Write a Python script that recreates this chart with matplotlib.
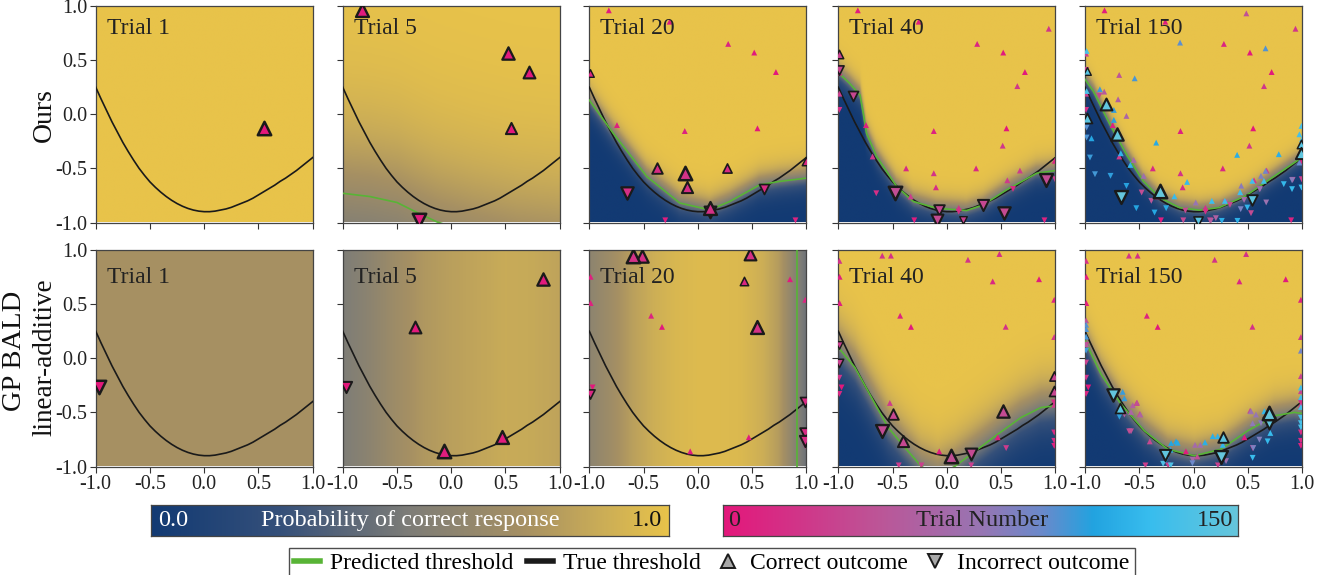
import numpy as np
import matplotlib.pyplot as plt
from matplotlib.colors import LinearSegmentedColormap
from matplotlib.lines import Line2D

plt.rcParams['font.family'] = ['Liberation Serif', 'DejaVu Serif']
plt.rcParams['axes.unicode_minus'] = False

TRIALS = [1, 5, 20, 40, 150]
MAX_TRIAL = 150
ROW_NAMES = ["Ours", "GP BALD"]

# true threshold curve
true_x = [-1.0, -0.95, -0.9, -0.85, -0.8, -0.75, -0.7, -0.65, -0.6, -0.55, -0.5,
          -0.45, -0.4, -0.35, -0.3, -0.25, -0.2, -0.15, -0.1, -0.05, 0.0,
          0.05, 0.1, 0.15, 0.2, 0.25, 0.3, 0.35, 0.4, 0.45, 0.5,
          0.55, 0.6, 0.65, 0.7, 0.75, 0.8, 0.85, 0.9, 0.95, 1.0]
true_y = [0.25, 0.14, 0.035, -0.07, -0.165, -0.26, -0.345, -0.425, -0.50, -0.565, -0.625,
          -0.675, -0.72, -0.76, -0.795, -0.825, -0.85, -0.87, -0.885, -0.895, -0.90,
          -0.90, -0.895, -0.885, -0.875, -0.86, -0.84, -0.82, -0.80, -0.775, -0.745,
          -0.715, -0.685, -0.655, -0.62, -0.59, -0.555, -0.52, -0.48, -0.44, -0.40]

# predicted thresholds, ours
ours_t5_x = [-1.0, -0.75, -0.5, -0.32, -0.13, 0.2, 0.6, 1.0]
ours_t5_y = [-0.73, -0.76, -0.815, -0.905, -0.995, -1.1, -1.2, -1.25]
ours_t20_x = [-1.0, -0.78, -0.47, -0.166, 0.11, 0.294, 0.57, 0.755, 1.0]
ours_t20_y = [0.13, -0.175, -0.575, -0.82, -0.883, -0.806, -0.652, -0.62, -0.59]
ours_t40_x = [-1.0, -0.9, -0.8, -0.77, -0.74, -0.647, -0.462, -0.308, -0.094, 0.183, 0.336, 0.551, 0.828, 1.0]
ours_t40_y = [0.385, 0.29, 0.178, 0.01, -0.175, -0.39, -0.668, -0.806, -0.868, -0.889, -0.837, -0.698, -0.545, -0.52]
ours_t150_x = [-1.0, -0.924, -0.771, -0.618, -0.466, -0.313, -0.13, 0.053, 0.237, 0.481, 0.725, 1.0]
ours_t150_y = [0.323, 0.215, -0.092, -0.37, -0.615, -0.769, -0.862, -0.886, -0.862, -0.754, -0.585, -0.40]

# predicted thresholds, GP BALD
gp_t20_x = [0.914, 0.914]
gp_t20_y = [-1.0, 1.0]
gp_t40_x = [-1.0, -0.847, -0.694, -0.541, -0.387, -0.234, -0.08, 0.072, 0.225, 0.47, 0.684, 0.868, 1.0]
gp_t40_y = [0.1, -0.085, -0.362, -0.639, -0.824, -1.0, -1.08, -1.0, -0.886, -0.701, -0.547, -0.455, -0.439]
gp_t150_x = [-1.0, -0.853, -0.668, -0.453, -0.238, 0.008, 0.253, 0.499, 0.745, 0.929, 1.0]
gp_t150_y = [0.162, -0.146, -0.424, -0.67, -0.84, -0.901, -0.84, -0.67, -0.532, -0.5, -0.51]

# GP posterior profiles that only vary along x
gp_t1_px = [-1.0, 1.0]
gp_t1_p = [0.72, 0.72]
gp_t5_px = [-1.0, -0.75, -0.5, -0.25, 0.0, 0.25, 0.5, 0.75, 1.0]
gp_t5_p = [0.50, 0.58, 0.68, 0.76, 0.80, 0.83, 0.86, 0.85, 0.82]
gp_t20_px = [-1.0, -0.8, -0.6, -0.4, -0.2, 0.0, 0.2, 0.4, 0.6, 0.75, 0.9, 1.0]
gp_t20_p = [0.58, 0.68, 0.80, 0.88, 0.93, 0.95, 0.95, 0.94, 0.88, 0.78, 0.56, 0.45]
ours_t1_px = [-1.0, 1.0]
ours_t1_p = [1.0, 1.0]

# psychometric slope / floor of the fitted surfaces
ours_sigma = {5: 0.45, 20: 0.07, 40: 0.06, 150: 0.05}
ours_floor = {5: 0.3, 20: 0.0, 40: 0.0, 150: 0.0}
gp_sigma = {40: 0.14, 150: 0.09}

# sampled stimuli: (trial, x, y, correct)
ours_points = [
    (1, 0.55, -0.13, 1), (2, 0.72, 0.39, 1), (3, 0.52, 0.57, 1), (4, -0.82, 0.96, 1),
    (5, -0.30, -0.98, 0), (6, -0.26, 0.855, 1), (7, -0.745, -0.10, 1), (8, -0.12, -0.155, 1),
    (9, 0.90, -0.98, 0), (10, 0.28, 0.65, 1), (11, -0.99, 0.385, 1), (12, 0.995, -0.43, 1),
    (13, 0.27, -0.50, 1), (14, 0.61, -0.69, 0), (15, -0.375, -0.50, 1), (16, -0.10, -0.675, 1),
    (17, 0.11, -0.90, 0), (18, -0.65, -0.73, 0), (19, 0.11, -0.865, 1), (20, -0.12, -0.545, 1),
    (21, -0.99, 0.04, 0), (22, 0.94, 0.79, 1), (23, 0.65, 0.26, 1), (24, 0.515, -0.29, 1),
    (25, -0.684, -0.39, 1), (26, 0.558, -0.61, 1), (27, 0.674, -0.52, 1), (28, -0.333, -0.76, 1),
    (29, -0.99, 0.19, 1), (30, 0.997, -0.60, 0), (31, 0.152, -0.98, 0), (32, -0.99, 0.56, 1),
    (33, -0.99, 0.41, 0), (34, -0.868, 0.172, 0), (35, -0.075, -0.889, 0), (36, 0.336, -0.837, 0),
    (37, -0.094, -0.98, 0), (38, 0.53, -0.914, 0), (39, 0.914, -0.606, 0), (40, -0.478, -0.723, 0),
    (42, 0.487, 0.932, 1), (45, -0.685, 0.363, 1), (47, -0.389, -0.80, 0), (50, -0.823, 0.209, 1),
    (52, 0.16, -0.985, 0), (55, -0.695, 0.138, 1), (57, 0.206, -0.96, 0), (60, -0.618, -0.015, 1),
    (62, 0.292, -0.815, 0), (65, -0.551, -0.422, 1), (67, 0.466, -0.792, 0), (70, -0.459, -0.569, 1),
    (72, 0.67, -0.815, 0), (75, 0.021, -0.815, 1), (77, 0.612, -0.692, 0), (80, 0.44, -0.66, 1),
    (82, 0.908, -0.609, 0), (85, 0.622, -0.569, 1), (87, 0.435, -0.877, 0), (90, 0.664, -0.523, 1),
    (93, 0.976, -0.446, 1),
    (96, -0.124, 0.662, 1), (97, -0.985, -0.123, 0), (98, 0.664, 0.609, 1), (99, -0.985, -0.215, 0),
    (100, -0.542, 0.332, 1), (101, -0.908, -0.554, 0), (102, -0.863, 0.231, 1), (103, -0.954, -0.40, 0),
    (104, -0.734, 0.04, 1), (105, -0.765, -0.569, 0), (106, -0.734, -0.052, 1), (107, -0.618, -0.662, 0),
    (108, -0.679, -0.222, 1), (109, -0.527, -0.868, 0), (110, -0.94, -0.222, 1), (111, -0.359, -0.908, 0),
    (112, -0.344, -0.262, 1), (113, -0.252, -0.868, 0), (114, 0.402, -0.375, 1), (115, 0.261, -0.985, 0),
    (116, 0.786, -0.369, 1), (117, 0.405, -0.985, 0), (118, -0.67, -0.36, 1), (119, 0.496, -0.862, 0),
    (120, -0.582, -0.468, 1), (121, 0.832, -0.646, 0), (122, -0.059, -0.625, 1), (123, 0.908, -0.692, 0),
    (124, -0.176, -0.758, 1), (125, 0.995, -0.677, 0), (126, 0.169, -0.80, 1), (127, 0.289, -0.80, 1),
    (128, 0.43, -0.72, 1), (129, 0.542, -0.615, 1), (130, 0.649, -0.615, 1), (131, 1.0, -0.23, 1),
    (132, 0.976, -0.185, 1), (133, 0.995, -0.108, 1), (134, -0.985, 0.585, 1), (135, -0.985, 0.215, 1),
    (141, -0.985, 0.40, 1), (142, 0.995, -0.277, 1), (143, 0.038, -0.985, 0), (144, -0.985, -0.031, 1),
    (145, 0.536, -0.792, 0), (146, 0.995, -0.354, 1), (147, -0.808, 0.098, 1), (148, -0.701, -0.185, 1),
    (149, -0.664, -0.769, 0), (150, -0.307, -0.706, 1),
]

gp_points = [
    (1, -0.97, -0.27, 0), (2, -0.33, 0.29, 1), (3, 0.85, 0.73, 1), (4, 0.47, -0.73, 1),
    (5, -0.07, -0.86, 1), (6, -0.988, 0.753, 1), (7, -0.988, 0.51, 1), (8, -0.43, 0.393, 1),
    (9, 0.99, -0.81, 0), (10, 0.99, 0.54, 1), (12, 0.423, 0.71, 1), (13, -0.99, -0.33, 0),
    (14, 0.988, -0.408, 0), (15, 0.99, -0.686, 0), (16, 0.99, -0.763, 0), (17, 0.485, 0.963, 1),
    (18, -0.515, 0.948, 1), (19, 0.543, 0.291, 1), (20, -0.595, 0.948, 1),
    (21, 0.195, 0.91, 1), (22, -0.99, 0.9, 1), (23, 0.99, 0.196, 1), (24, -0.99, -0.18, 0),
    (25, 0.99, -0.43, 1), (26, -0.525, -0.413, 1), (27, 0.547, -0.83, 0), (28, -0.443, -0.99, 0),
    (29, -0.234, -0.99, 0), (30, 0.225, -0.99, 0), (31, -0.99, 0.122, 0), (32, -0.99, -0.04, 0),
    (33, 0.99, -0.165, 1), (34, 0.99, -0.304, 1), (35, -0.495, -0.515, 1), (36, -0.403, -0.768, 1),
    (37, 0.225, -0.886, 0), (38, 0.522, -0.484, 1), (39, -0.593, -0.675, 0), (40, 0.035, -0.907, 1),
    (41, -0.52, -0.41, 1), (44, -0.576, -0.675, 0), (46, -0.99, 0.35, 1), (49, -0.99, 0.13, 1),
    (52, -0.637, -0.52, 0), (54, -0.56, -0.434, 1), (57, -0.49, -0.52, 1), (60, -0.576, -0.496, 1),
    (62, -0.008, -0.938, 0), (65, 0.014, -0.80, 1), (68, 0.063, -0.80, 1), (70, 0.30, -0.95, 0),
    (73, 0.53, -0.49, 1), (76, 0.576, -0.52, 1), (78, 0.545, -0.60, 1), (81, 0.622, -0.60, 0),
    (84, 0.607, -0.752, 0), (86, 0.551, -0.83, 0), (89, 0.99, 0.07, 1), (92, -0.01, -0.97, 0),
    (97, -0.99, 0.31, 1), (98, -0.99, 0.27, 1), (100, -0.99, 0.20, 1), (101, -0.99, 0.07, 0),
    (103, -0.653, -0.31, 1), (104, -0.637, -0.37, 1), (106, -0.683, -0.54, 0), (107, -0.253, -0.94, 0),
    (109, -0.207, -0.783, 1), (110, -0.161, -0.768, 1), (112, -0.146, -0.78, 1), (113, -0.213, -0.845, 1),
    (115, 0.106, -0.777, 1), (116, 0.177, -0.72, 1), (118, 0.223, -0.72, 1), (119, 0.27, -0.80, 1),
    (121, 0.653, -0.49, 1), (122, 0.683, -0.768, 0), (124, 0.708, -0.69, 1), (125, 0.545, -0.92, 0),
    (127, 0.99, -0.27, 1), (128, 0.99, -0.36, 1), (130, 0.99, -0.45, 1), (131, 0.99, -0.55, 0),
    (133, 0.99, -0.60, 0), (134, 0.99, -0.64, 0), (136, -0.21, -0.99, 0), (137, -0.28, -0.975, 0),
    (144, -0.674, -0.459, 1), (145, 0.269, -0.725, 1), (146, -0.263, -0.892, 0), (147, 0.699, -0.60, 0),
    (148, -0.745, -0.341, 0), (149, 0.253, -0.91, 0), (150, 0.699, -0.505, 1),
]

prob_cmap = LinearSegmentedColormap.from_list(
    "prob", [(0.0, "#123a73"), (0.25, "#35507a"), (0.5, "#7e7d77"),
             (0.72, "#a69063"), (0.86, "#c8ab58"), (1.0, "#e8c34a")])
trial_cmap = LinearSegmentedColormap.from_list(
    "trial", [(0.0, "#e4177b"), (0.3, "#bd5597"), (0.5, "#9875b3"), (0.62, "#6a8acb"),
              (0.72, "#22a3e0"), (0.83, "#38bdee"), (1.0, "#66c6dc")])

GREEN = "#58b436"

grid = np.linspace(-1, 1, 300)
gx, gy = np.meshgrid(grid, grid)


def threshold_surface(xs, ys, sigma, floor=0.0):
    theta = np.interp(gx, xs, ys)
    p = 1.0 / (1.0 + np.exp(-(gy - theta) / sigma))
    return floor + (1.0 - floor) * p


def column_surface(xs, ps):
    return np.interp(gx, xs, ps)


surfaces = [
    [column_surface(ours_t1_px, ours_t1_p),
     threshold_surface(ours_t5_x, ours_t5_y, ours_sigma[5], ours_floor[5]),
     threshold_surface(ours_t20_x, ours_t20_y, ours_sigma[20]),
     threshold_surface(ours_t40_x, ours_t40_y, ours_sigma[40]),
     threshold_surface(ours_t150_x, ours_t150_y, ours_sigma[150])],
    [column_surface(gp_t1_px, gp_t1_p),
     column_surface(gp_t5_px, gp_t5_p),
     column_surface(gp_t20_px, gp_t20_p),
     threshold_surface(gp_t40_x, gp_t40_y, gp_sigma[40]),
     threshold_surface(gp_t150_x, gp_t150_y, gp_sigma[150])],
]
pred_lines = [
    [None, (ours_t5_x, ours_t5_y), (ours_t20_x, ours_t20_y),
     (ours_t40_x, ours_t40_y), (ours_t150_x, ours_t150_y)],
    [None, None, (gp_t20_x, gp_t20_y), (gp_t40_x, gp_t40_y), (gp_t150_x, gp_t150_y)],
]
row_points = [ours_points, gp_points]


def draw_points(ax, pts, current):
    shown = sorted([p for p in pts if p[0] <= current], key=lambda p: p[0])
    for trial, x, y, ok in shown:
        age = current - trial
        color = trial_cmap(trial / MAX_TRIAL)
        if age < 10:
            s = 30 + 7 * (9 - age)
            ec, lw = "#1a1a1a", 1.0 + 0.09 * (9 - age)
        else:
            s, ec, lw = 18, "none", 0
        ax.scatter([x], [y], s=s, marker="^" if ok else "v", c=[color],
                   edgecolors=ec, linewidths=lw, zorder=5)


W, H = 1323, 575
fig = plt.figure(figsize=(W / 100, H / 100), dpi=100)

col_left = [95.7, 342.7, 589.3, 838.3, 1085.0]
row_top = [6.0, 250.0]
pw, ph = 217.0, 216.5
ticks = [-1.0, -0.5, 0.0, 0.5, 1.0]

for r in range(2):
    for c, trial in enumerate(TRIALS):
        ax = fig.add_axes([col_left[c] / W, 1 - (row_top[r] + ph) / H, pw / W, ph / H])
        ax.imshow(surfaces[r][c], extent=[-1, 1, -1, 1], origin="lower", aspect="auto",
                  cmap=prob_cmap, vmin=0, vmax=1, interpolation="bilinear", zorder=0)
        ax.plot(true_x, true_y, color="#1a1a1a", lw=1.2, zorder=3)
        if pred_lines[r][c] is not None:
            px, py = pred_lines[r][c]
            ax.plot(px, py, color=GREEN, lw=1.2, zorder=3)
        draw_points(ax, row_points[r], trial)
        ax.set_xlim(-1, 1)
        ax.set_ylim(-1, 1)
        ax.set_xticks(ticks)
        ax.set_yticks(ticks)
        ax.set_xticklabels(["%.1f" % t for t in ticks] if r == 1 else [])
        ax.set_yticklabels(["%.1f" % t for t in ticks] if c == 0 else [])
        ax.tick_params(direction="out", length=4, width=0.8, labelsize=14.5,
                       colors="#333333", labelcolor="#222222", pad=2)
        for sp in ax.spines.values():
            sp.set_color("#444444")
            sp.set_linewidth(0.9)
        ax.text(0.05, 0.895 if r == 0 else 0.875, "Trial %d" % trial, transform=ax.transAxes,
                fontsize=17, color="#222222", ha="left", va="center", zorder=6)

# row labels
fig.text(44 / W, 1 - 115 / H, "Ours", rotation=90, fontsize=20, ha="center", va="center",
         color="#111111")
fig.text(15 / W, 1 - 351 / H, "GP BALD", rotation=90, fontsize=20.5, ha="center", va="center",
         color="#111111")
fig.text(45 / W, 1 - 357 / H, "linear-additive", rotation=90, fontsize=19.5, ha="center",
         va="center", color="#111111")

# colour bars with labels inside
gradient = np.linspace(0, 1, 512)[None, :]
cb1 = fig.add_axes([151 / W, 1 - 536 / H, 518 / W, 31 / H])
cb1.imshow(gradient, aspect="auto", cmap=prob_cmap, extent=[0, 1, 0, 1])
cb1.set_xticks([])
cb1.set_yticks([])
cb1.text(0.013, 0.5, "0.0", color="white", fontsize=17.5, ha="left", va="center",
         transform=cb1.transAxes)
cb1.text(0.5, 0.5, "Probability of correct response", color="white", fontsize=17.5,
         ha="center", va="center", transform=cb1.transAxes)
cb1.text(0.987, 0.5, "1.0", color="#111111", fontsize=17.5, ha="right", va="center",
         transform=cb1.transAxes)

cb2 = fig.add_axes([723 / W, 1 - 536 / H, 515 / W, 31 / H])
cb2.imshow(gradient, aspect="auto", cmap=trial_cmap, extent=[0, 1, 0, 1])
cb2.set_xticks([])
cb2.set_yticks([])
cb2.text(0.01, 0.5, "0", color="#222222", fontsize=17.5, ha="left", va="center",
         transform=cb2.transAxes)
cb2.text(0.503, 0.5, "Trial Number", color="#222222", fontsize=17.5, ha="center",
         va="center", transform=cb2.transAxes)
cb2.text(0.99, 0.5, "%d" % MAX_TRIAL, color="#222222", fontsize=17.5, ha="right",
         va="center", transform=cb2.transAxes)
for cb in (cb1, cb2):
    for sp in cb.spines.values():
        sp.set_color("#444444")
        sp.set_linewidth(0.9)

handles = [
    Line2D([], [], color=GREEN, lw=4),
    Line2D([], [], color="#1a1a1a", lw=4),
    Line2D([], [], ls="none", marker="^", ms=10, mfc="#a8a8a8", mec="#1a1a1a", mew=1.4),
    Line2D([], [], ls="none", marker="v", ms=10, mfc="#a8a8a8", mec="#1a1a1a", mew=1.4),
]
labels = ["Predicted threshold", "True threshold", "Correct outcome", "Incorrect outcome"]
leg = fig.legend(handles, labels, loc="upper center", bbox_to_anchor=(712 / W, 1 - 548 / H),
                 ncol=4, fontsize=17, frameon=True, fancybox=False, edgecolor="#222222",
                 handlelength=1.1, handletextpad=0.4, columnspacing=0.6, borderpad=0.2,
                 borderaxespad=0)
leg.get_frame().set_linewidth(1.0)

fig.savefig("out.png", dpi=100)
